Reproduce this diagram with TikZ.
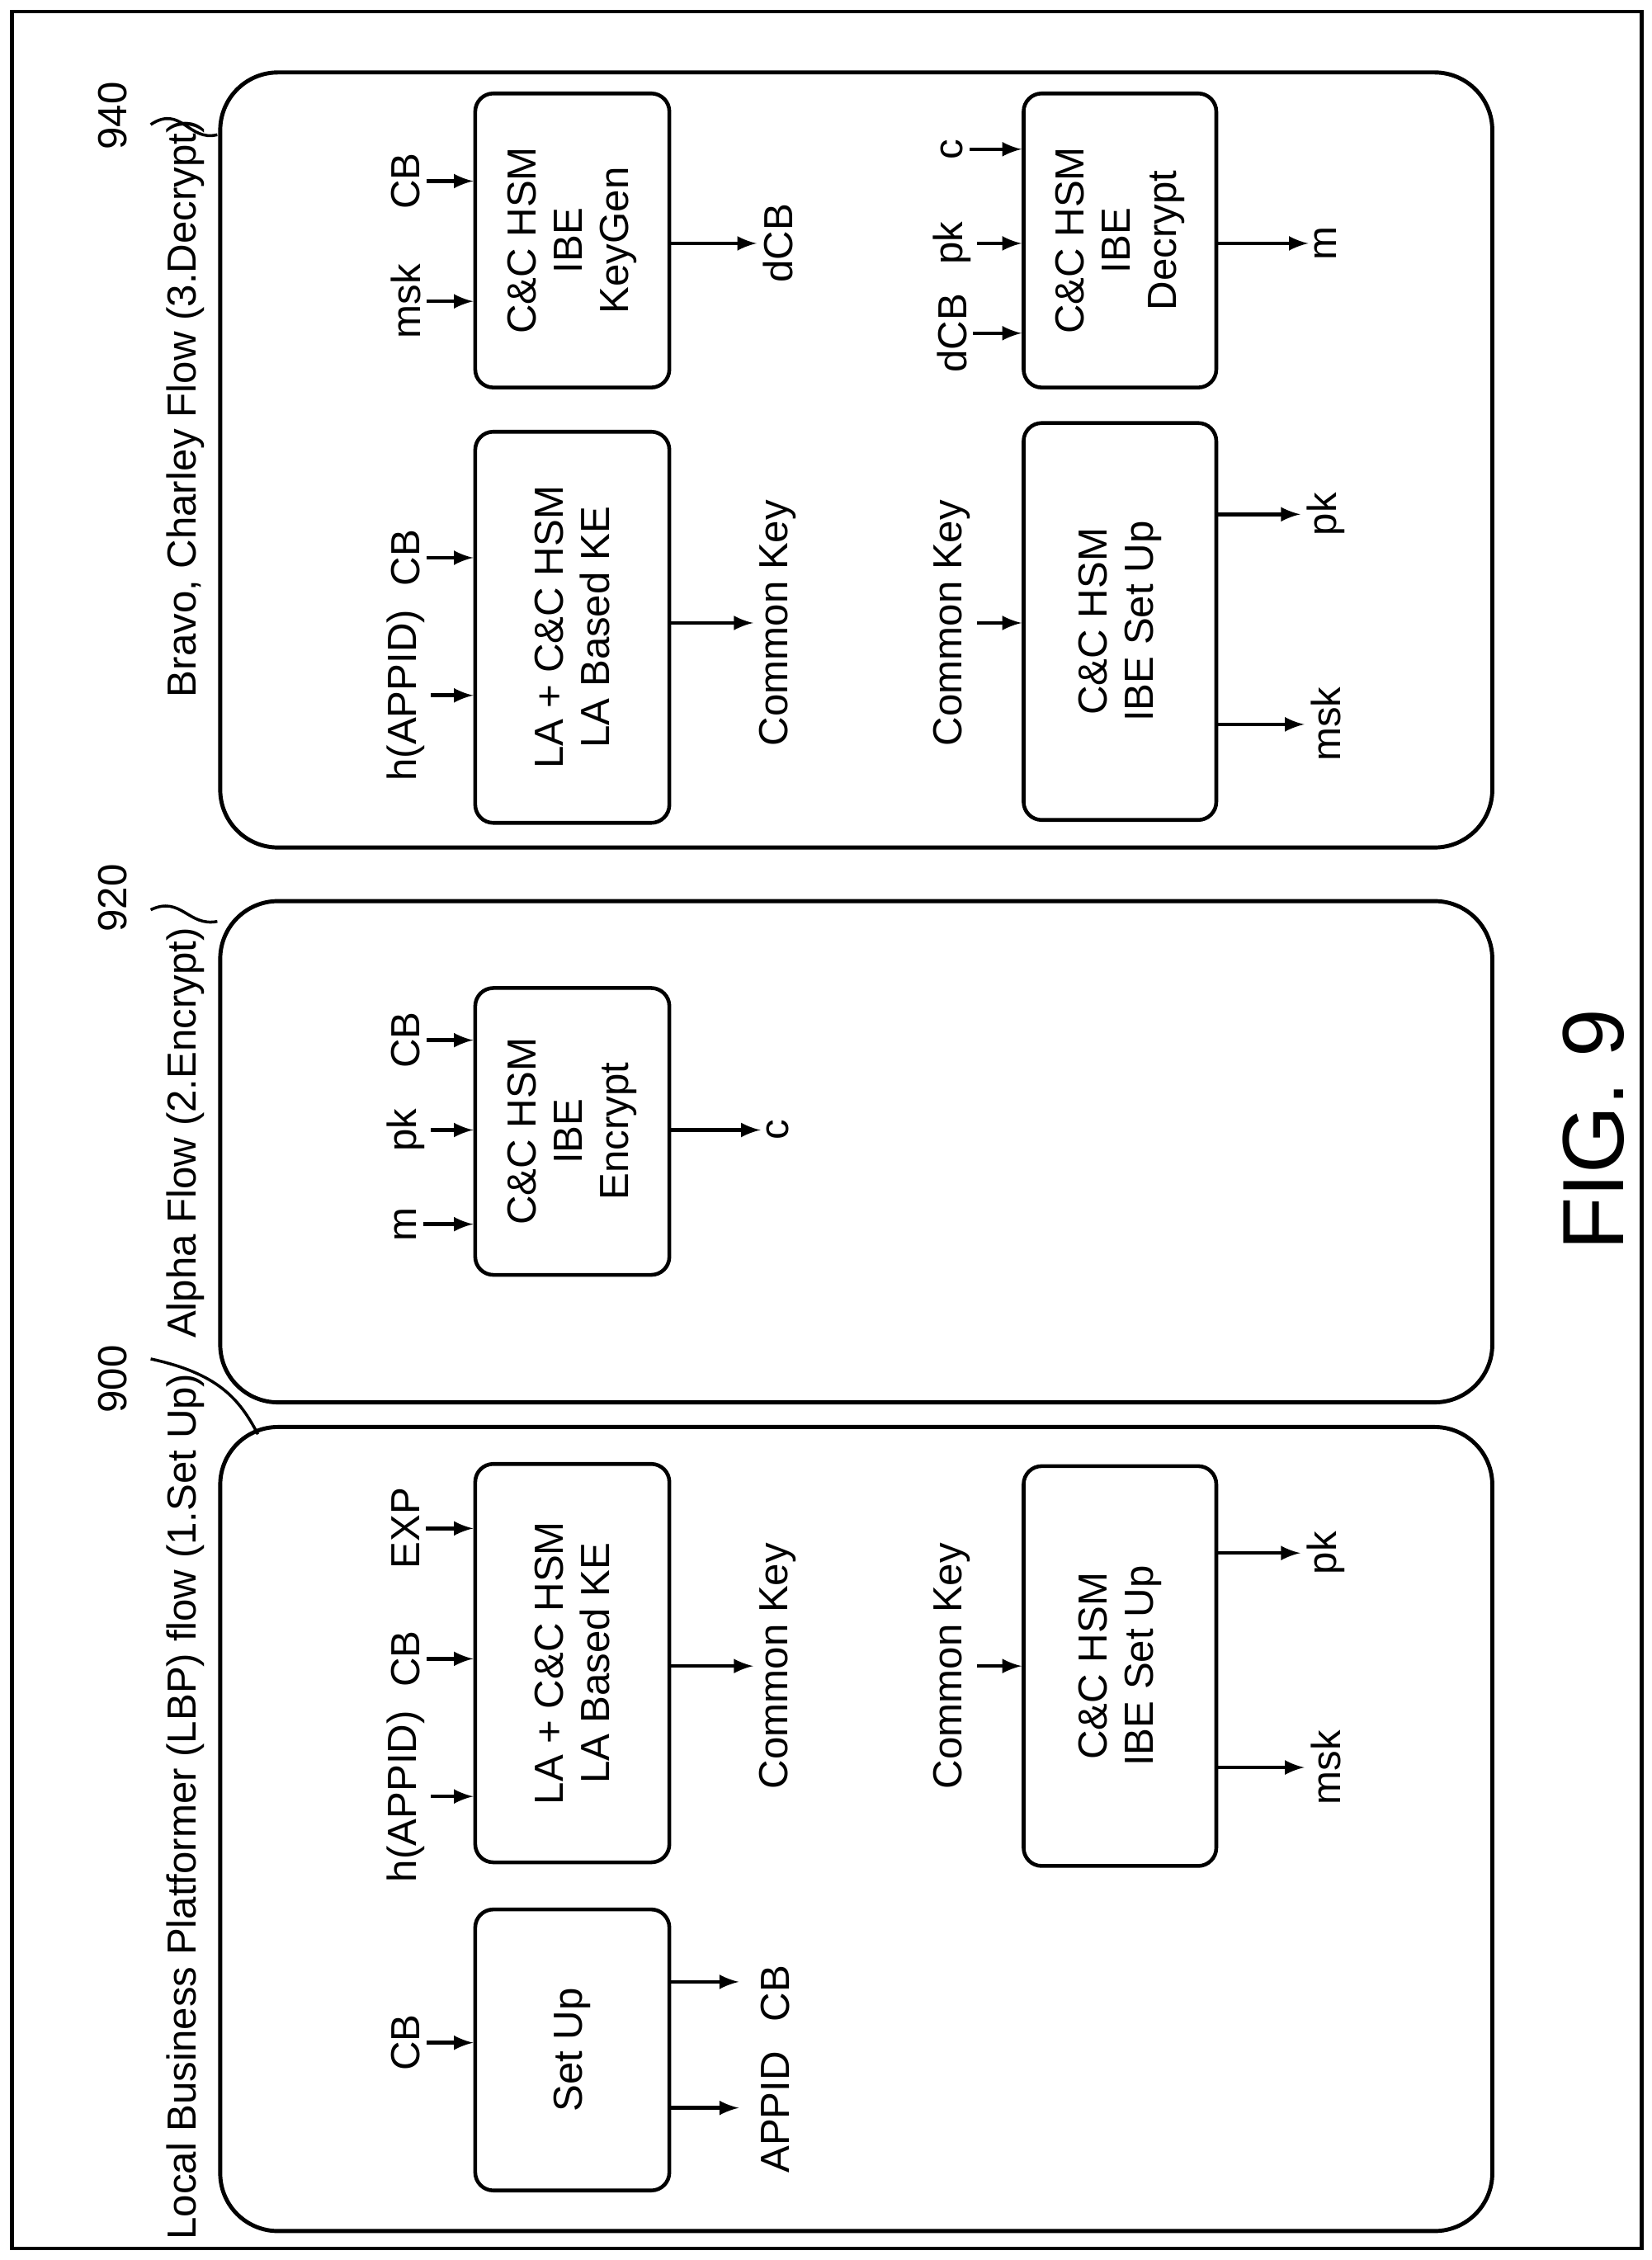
\documentclass[tikz,border=0pt]{standalone}
\usepackage{fontspec}
\setmainfont{Liberation Sans}
\begin{document}
\begin{tikzpicture}[x=0.1756mm,y=-0.1756mm,
  every node/.style={font=\fontsize{14}{16}\selectfont},
  box/.style={draw,line width=1.3pt,rounded corners=2.2mm,rotate=90,align=center,inner sep=0pt},
  lbl/.style={rotate=90,inner sep=2pt},
  panel/.style={line width=1.4pt,rounded corners=7mm},
  arr/.style={line width=1.3pt,-latex}]
\useasboundingbox (0,0) rectangle (1140,1560);
\draw[line width=1.4pt] (8,8) rectangle (1133,1552);

% panels
\draw[panel] (152,985) rectangle (1030,1540);
\draw[panel] (152,622) rectangle (1030,968);
\draw[panel] (152,50) rectangle (1030,585);

\node[lbl] (t900) at (128,1247) {Local Business Platformer (LBP) flow (1.Set Up)};
\node[lbl] (t920) at (128,782) {Alpha Flow (2.Encrypt)};
\node[lbl] (t940) at (128,282) {Bravo, Charley Flow (3.Decrypt)};

\node[lbl] (n900) at (78,952) {900};
\node[lbl] (n920) at (78,620) {920};
\node[lbl] (n940) at (78,80) {940};
\draw[line width=1pt] (104,938) .. controls (150,948) and (165,965) .. (178,990);
\draw[line width=1pt] (104,628) .. controls (125,618) and (130,640) .. (150,636);
\draw[line width=1pt] (104,86) .. controls (125,72) and (130,98) .. (150,93);

\node[lbl,font=\fontsize{30}{34}\selectfont] (fig) at (1100,780) {FIG. 9};

% panel 900
\node[box,minimum width={194*0.1756mm},minimum height={134*0.1756mm}] (setup) at (395,1415) {Set Up};
\node[lbl] (cbA) at (280,1410) {CB};
\draw[arr] (cbA.south) -- (cbA.south -| setup.north);
\node[lbl] (cbB) at (535,1376) {CB};
\node[lbl] (appid) at (535,1458) {APPID};
\draw[arr] (setup.south |- 0,1368) -- (510,1368);
\draw[arr] (setup.south |- 0,1455) -- (510,1455);

\node[box,minimum width={275*0.1756mm},minimum height={134*0.1756mm}] (laA) at (395,1148) {LA + C\&C HSM\\LA Based KE};
\node[lbl] (happA) at (280,1240) {h(APPID)};
\node[lbl] (cbC) at (280,1145) {CB};
\node[lbl] (exp) at (280,1055) {EXP};
\foreach \n in {happA,cbC,exp} \draw[arr] (\n.south) -- (\n.south -| laA.north);
\node[lbl] (ckA) at (537,1150) {Common Key};
\draw[arr] (laA.south |- ckA) -- (ckA.north);

\node[box,minimum width={276*0.1756mm},minimum height={133*0.1756mm}] (ibeA) at (773,1150) {C\&C HSM\\IBE Set Up};
\node[lbl] (ckB) at (657,1150) {Common Key};
\draw[arr] (ckB.south) -- (ckB.south -| ibeA.north);
\node[lbl] (mskA) at (915,1220) {msk};
\node[lbl] (pkA) at (915,1072) {pk};
\draw[arr] (ibeA.south |- mskA) -- (mskA.north);
\draw[arr] (ibeA.south |- pkA) -- (pkA.north);

% panel 920
\node[box,minimum width={198*0.1756mm},minimum height={134*0.1756mm}] (enc) at (395,781) {C\&C HSM\\IBE\\Encrypt};
\node[lbl] (mA) at (280,845) {m};
\node[lbl] (pkB) at (280,780) {pk};
\node[lbl] (cbD) at (280,718) {CB};
\foreach \n in {mA,pkB,cbD} \draw[arr] (\n.south) -- (\n.south -| enc.north);
\node[lbl] (cA) at (537,780) {c};
\draw[arr] (enc.south |- cA) -- (cA.north);

% panel 940
\node[box,minimum width={270*0.1756mm},minimum height={134*0.1756mm}] (laB) at (395,433) {LA + C\&C HSM\\LA Based KE};
\node[lbl] (happB) at (280,480) {h(APPID)};
\node[lbl] (cbE) at (280,385) {CB};
\foreach \n in {happB,cbE} \draw[arr] (\n.south) -- (\n.south -| laB.north);
\node[lbl] (ckC) at (537,430) {Common Key};
\draw[arr] (laB.south |- ckC) -- (ckC.north);

\node[box,minimum width={203*0.1756mm},minimum height={134*0.1756mm}] (kg) at (395,166) {C\&C HSM\\IBE\\KeyGen};
\node[lbl] (mskB) at (280,208) {msk};
\node[lbl] (cbF) at (280,125) {CB};
\foreach \n in {mskB,cbF} \draw[arr] (\n.south) -- (\n.south -| kg.north);
\node[lbl] (dcbA) at (537,168) {dCB};
\draw[arr] (kg.south |- dcbA) -- (dcbA.north);

\node[box,minimum width={274*0.1756mm},minimum height={133*0.1756mm}] (ibeB) at (773,429) {C\&C HSM\\IBE Set Up};
\node[lbl] (ckD) at (657,430) {Common Key};
\draw[arr] (ckD.south) -- (ckD.south -| ibeB.north);
\node[lbl] (mskC) at (915,500) {msk};
\node[lbl] (pkC) at (915,355) {pk};
\draw[arr] (ibeB.south |- mskC) -- (mskC.north);
\draw[arr] (ibeB.south |- pkC) -- (pkC.north);

\node[box,minimum width={203*0.1756mm},minimum height={133*0.1756mm}] (dec) at (773,166) {C\&C HSM\\IBE\\Decrypt};
\node[lbl] (dcbB) at (657,230) {dCB};
\node[lbl] (pkD) at (657,168) {pk};
\node[lbl] (cB) at (657,103) {c};
\foreach \n in {dcbB,pkD,cB} \draw[arr] (\n.south) -- (\n.south -| dec.north);
\node[lbl] (mB) at (915,168) {m};
\draw[arr] (dec.south |- mB) -- (mB.north);
\end{tikzpicture}
\end{document}
